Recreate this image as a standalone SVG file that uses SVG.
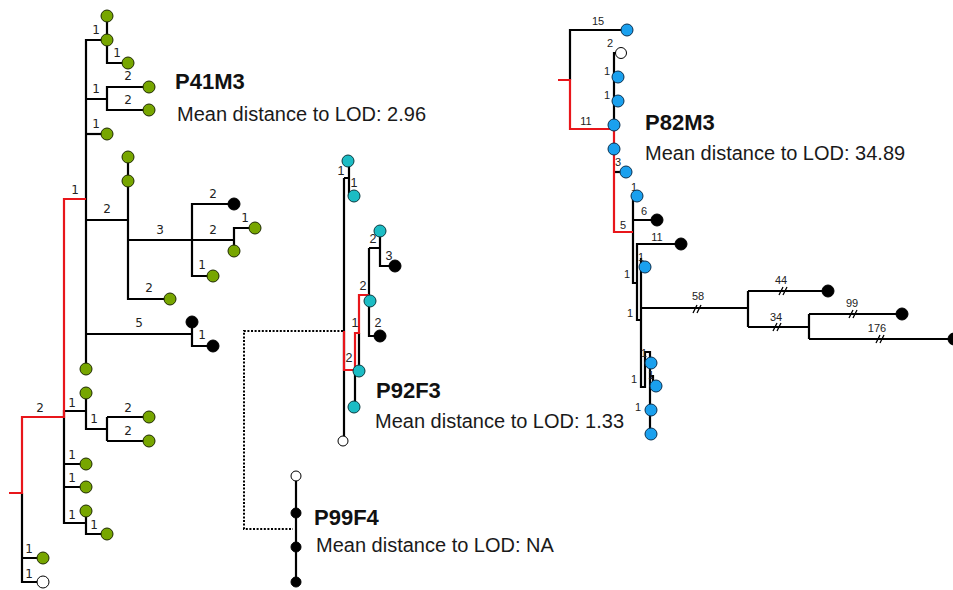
<svg xmlns="http://www.w3.org/2000/svg" width="953" height="590" viewBox="0 0 953 590">
<defs>
<style>
.e{fill:none;stroke:#000;stroke-width:2.2}
.r{fill:none;stroke:#e8161b;stroke-width:2.2}
.d{fill:none;stroke:#000;stroke-width:2;stroke-dasharray:2 1.6}
.h{fill:none;stroke:#000;stroke-width:1.3}
.g{fill:#77a600;stroke:#1e2a00;stroke-width:1}
.c{fill:#1cbcc4;stroke:#0a3a40;stroke-width:1}
.b{fill:#1aa0ee;stroke:#0a3050;stroke-width:1}
.k{fill:#000;stroke:#000;stroke-width:1}
.w{fill:#fff;stroke:#000;stroke-width:1}
.l1{font-family:"DejaVu Sans",sans-serif;font-size:12px;fill:#222;text-anchor:middle}
.l2{font-family:"Liberation Sans",Arial,sans-serif;font-size:12.5px;fill:#222;text-anchor:middle}
.l3{font-family:"Liberation Sans",Arial,sans-serif;font-size:11px;fill:#222;text-anchor:middle}
.t{font-family:"Liberation Sans",Arial,sans-serif;font-size:22px;font-weight:bold;fill:#111}
.m{font-family:"Liberation Sans",Arial,sans-serif;font-size:20px;fill:#1a1a1a}
</style>
</defs>
<g id="connectors">
<path class="e" d="M107,16 V63 H128"/>
<path class="e" d="M107,40 H86 V369"/>
<path class="e" d="M149,87 H107 V110 H149 M86,99 H107"/>
<path class="e" d="M86,134 H107"/>
<path class="e" d="M128,157 V299 H170 M86,220 H128"/>
<path class="e" d="M128,240 H234 V251 M234,240 V228 H255"/>
<path class="e" d="M234,204 H192 V276 H213"/>
<path class="e" d="M86,334 H192 V322 M192,334 V346 H213"/>
<path class="e" d="M64,410 V523 H86 M64,411 H86 M86,393 V429 H107 M107,417 V441 M107,417 H149 M107,441 H149 M64,464 H86 M64,487 H86 M86,511 V534 H107"/>
<path class="e" d="M22,493 V582 H43 M22,558 H43"/>
<path class="r" d="M86,199 H64 V417 H22 V493 H9"/>
<path class="e" d="M344,178 V441 M344,178 H349 M349,161 V196"/>
<path class="e" d="M369,248 H380 V266 H395 M380,231 V248 M369,248 V336 H380"/>
<path class="e" d="M359,333 V371 M355,371 V407"/>
<path class="r" d="M344,331 V370 H355 V333 H359 V295 H369"/>
<path class="e" d="M296,476 V582"/>
<path class="d" d="M343,331 H244 V529 H293"/>
<path class="e" d="M570,80 V30 H627"/>
<path class="e" d="M621,53 H614 V129"/>
<path class="e" d="M614,172 H626"/>
<path class="e" d="M633,196 V283 H637 M633,220 H657"/>
<path class="e" d="M681,244 H637 V320 H641"/>
<path class="e" d="M641,258 V387 H645 V352 H650 V434 M650,376 H653 V386"/>
<path class="e" d="M641,308 H748 M748,291 V327 M748,291 H828 M748,327 H809 M809,314 V339 M809,314 H902 M809,339 H953"/>
<path class="r" d="M558,80 H570 V129 H614 V232 H633"/>
<path class="h" d="M693,313 L697,305 M697,313 L701,305 M779,295 L783,287 M783,295 L787,287 M773,331 L777,323 M777,331 L781,323 M849,318 L853,310 M853,318 L857,310 M876,343 L880,335 M880,343 L884,335"/>
</g>
<g id="labels">
<text class="l1" x="96" y="33.5">1</text>
<text class="l1" x="117" y="57">1</text>
<text class="l1" x="128" y="80">2</text>
<text class="l1" x="96" y="92.5">1</text>
<text class="l1" x="128" y="103.5">2</text>
<text class="l1" x="96" y="127.5">1</text>
<text class="l1" x="75" y="193.5">1</text>
<text class="l1" x="107" y="213">2</text>
<text class="l1" x="160" y="234">3</text>
<text class="l1" x="213" y="198">2</text>
<text class="l1" x="213" y="234">2</text>
<text class="l1" x="245" y="222">1</text>
<text class="l1" x="202" y="269">1</text>
<text class="l1" x="149" y="292">2</text>
<text class="l1" x="139" y="327">5</text>
<text class="l1" x="202" y="339">1</text>
<text class="l1" x="40" y="411.5">2</text>
<text class="l1" x="72" y="407">1</text>
<text class="l1" x="94" y="423">1</text>
<text class="l1" x="128" y="412">2</text>
<text class="l1" x="128" y="435">2</text>
<text class="l1" x="72" y="459">1</text>
<text class="l1" x="72" y="482">1</text>
<text class="l1" x="72" y="519">1</text>
<text class="l1" x="94" y="529">1</text>
<text class="l1" x="29" y="553">1</text>
<text class="l1" x="29" y="577.5">1</text>
<text class="l2" x="341" y="175">1</text>
<text class="l2" x="354" y="187">1</text>
<text class="l2" x="373" y="243">2</text>
<text class="l2" x="389" y="260">3</text>
<text class="l2" x="363" y="290">2</text>
<text class="l2" x="378" y="327">2</text>
<text class="l2" x="355" y="327">1</text>
<text class="l2" x="349" y="362">2</text>
<text class="l3" x="598" y="24.5">15</text>
<text class="l3" x="610" y="47">2</text>
<text class="l3" x="607" y="75">1</text>
<text class="l3" x="607" y="99">1</text>
<text class="l3" x="586" y="124.5">11</text>
<text class="l3" x="618" y="165.5">3</text>
<text class="l3" x="634" y="190.5">1</text>
<text class="l3" x="644" y="214.5">6</text>
<text class="l3" x="623" y="228.5">5</text>
<text class="l3" x="657" y="240.5">11</text>
<text class="l3" x="641" y="261">1</text>
<text class="l3" x="627" y="278">1</text>
<text class="l3" x="630" y="317">1</text>
<text class="l3" x="644" y="357">1</text>
<text class="l3" x="634" y="383">1</text>
<text class="l3" x="651" y="379">1</text>
<text class="l3" x="638" y="411">1</text>
<text class="l3" x="698" y="300">58</text>
<text class="l3" x="781" y="284">44</text>
<text class="l3" x="776" y="320.5">34</text>
<text class="l3" x="852" y="306.5">99</text>
<text class="l3" x="877" y="332">176</text>
</g>
<g id="P41M3">
<circle class="g" cx="107" cy="16" r="6"/>
<circle class="g" cx="107" cy="40" r="6"/>
<circle class="g" cx="128" cy="63" r="6"/>
<circle class="g" cx="149" cy="87" r="6"/>
<circle class="g" cx="149" cy="110" r="6"/>
<circle class="g" cx="107" cy="134" r="6"/>
<circle class="g" cx="128" cy="157" r="6"/>
<circle class="g" cx="128" cy="181" r="6"/>
<circle class="k" cx="234" cy="204" r="6"/>
<circle class="g" cx="255" cy="228" r="6"/>
<circle class="g" cx="234" cy="251" r="6"/>
<circle class="g" cx="213" cy="276" r="6"/>
<circle class="g" cx="170" cy="299" r="6"/>
<circle class="k" cx="192" cy="322" r="6"/>
<circle class="k" cx="213" cy="346" r="6"/>
<circle class="g" cx="86" cy="369" r="6"/>
<circle class="g" cx="86" cy="393" r="6"/>
<circle class="g" cx="149" cy="417" r="6"/>
<circle class="g" cx="149" cy="441" r="6"/>
<circle class="g" cx="86" cy="464" r="6"/>
<circle class="g" cx="86" cy="487" r="6"/>
<circle class="g" cx="86" cy="511" r="6"/>
<circle class="g" cx="107" cy="534" r="6"/>
<circle class="g" cx="43" cy="558" r="6"/>
<circle class="w" cx="43" cy="582" r="6"/>
<text class="t" x="175" y="89">P41M3</text>
<text class="m" x="177" y="121">Mean distance to LOD: 2.96</text>
</g>
<g id="P92F3">
<circle class="c" cx="348" cy="161" r="6"/>
<circle class="c" cx="354" cy="196" r="6"/>
<circle class="c" cx="380" cy="231" r="6"/>
<circle class="k" cx="395" cy="266" r="6"/>
<circle class="c" cx="370" cy="301" r="6"/>
<circle class="k" cx="380" cy="336" r="6"/>
<circle class="c" cx="359" cy="371" r="6"/>
<circle class="c" cx="354" cy="407" r="6"/>
<circle class="w" cx="343" cy="441" r="5"/>
<text class="t" x="376" y="398">P92F3</text>
<text class="m" x="375" y="428">Mean distance to LOD: 1.33</text>
</g>
<g id="P99F4">
<circle class="w" cx="296" cy="476" r="5"/>
<circle class="k" cx="296" cy="513" r="5"/>
<circle class="k" cx="296" cy="547" r="5"/>
<circle class="k" cx="296" cy="582" r="5"/>
<text class="t" x="314" y="525">P99F4</text>
<text class="m" x="316" y="552">Mean distance to LOD: NA</text>
</g>
<g id="P82M3">
<circle class="b" cx="627" cy="30" r="6"/>
<circle class="w" cx="621" cy="53" r="5.5"/>
<circle class="b" cx="618" cy="77" r="6"/>
<circle class="b" cx="618" cy="101" r="6"/>
<circle class="b" cx="614" cy="125" r="6"/>
<circle class="b" cx="614" cy="149" r="6"/>
<circle class="b" cx="626" cy="172" r="6"/>
<circle class="b" cx="637" cy="196" r="6"/>
<circle class="k" cx="657" cy="220" r="6"/>
<circle class="k" cx="681" cy="244" r="6"/>
<circle class="b" cx="645" cy="267" r="6"/>
<circle class="b" cx="651" cy="363" r="6"/>
<circle class="b" cx="656" cy="386" r="6"/>
<circle class="b" cx="651" cy="410" r="6"/>
<circle class="b" cx="651" cy="434" r="6"/>
<circle class="k" cx="828" cy="291" r="6"/>
<circle class="k" cx="902" cy="314" r="6"/>
<circle class="k" cx="954" cy="339" r="6"/>
<text class="t" x="645" y="130">P82M3</text>
<text class="m" x="645" y="160">Mean distance to LOD: 34.89</text>
</g>
</svg>
